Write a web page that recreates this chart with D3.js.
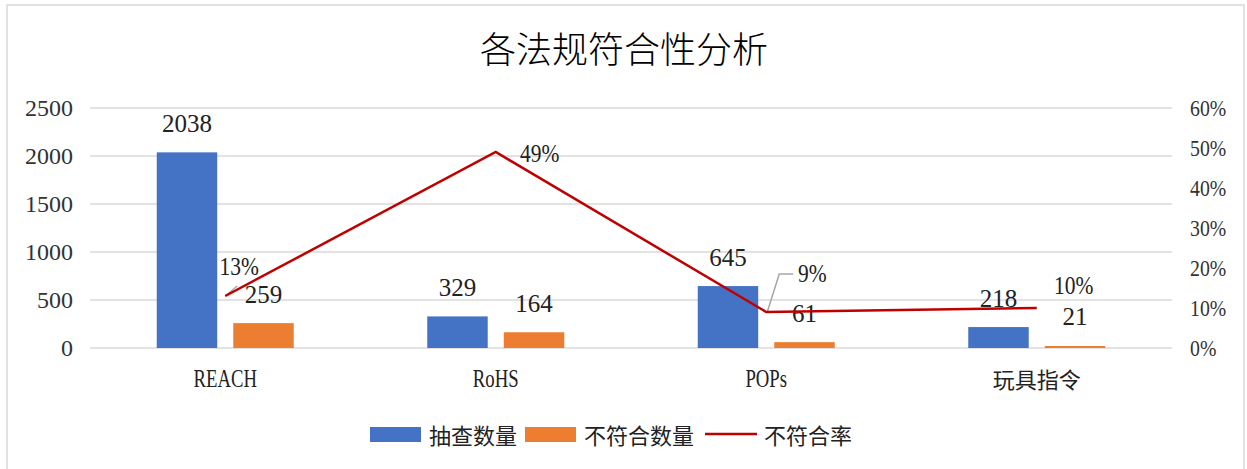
<!DOCTYPE html>
<html>
<head>
<meta charset="utf-8">
<script src="https://cdn.jsdelivr.net/npm/d3@7"></script>
<style>
  body { margin: 0; background: #fff; }
  svg { display: block; }
</style>
</head>
<body>
<svg id="chart" width="1247" height="469"></svg>
<script>
// 数据
const categories = ["REACH", "RoHS", "POPs", "玩具指令"];
const checkCount = [2038, 329, 645, 218];   // 抽查数量
const failCount = [259, 164, 61, 21];       // 不符合数量
const failRate = [0.13, 0.49, 0.09, 0.10];  // 不符合率
const leftTicks = [0, 500, 1000, 1500, 2000, 2500];
const rightTicks = [0, 0.1, 0.2, 0.3, 0.4, 0.5, 0.6];

// 百分比标签相对数据点的偏移（布局用）
const rateLabelOffset = [[14, -30], [44, 1], [46, -39], [37, -23]];

const W = 1247, H = 469;
const margin = { left: 90, right: 75, top: 108, bottom: 121 };
const plotR = W - margin.right, plotB = H - margin.bottom;

const blue = "#4472C4", orange = "#ED7D31", red = "#C00000", grid = "#d9d9d9";
const serif = "'Liberation Serif', 'Times New Roman', serif";
const cjk = "'Noto Sans CJK SC', sans-serif";

const svg = d3.select("#chart");

// 外边框
svg.append("rect")
  .attr("x", 7).attr("y", 5).attr("width", 1237).attr("height", 480)
  .attr("fill", "none").attr("stroke", grid).attr("stroke-width", 1.5);

// 标题
svg.append("text")
  .attr("x", 624).attr("y", 47)
  .attr("text-anchor", "middle").attr("dominant-baseline", "central")
  .style("font-family", cjk).style("font-size", "36px").style("font-weight", 300)
  .attr("fill", "#000")
  .text("各法规符合性分析");

const x = d3.scaleBand().domain(categories).range([margin.left, plotR]);
const yL = d3.scaleLinear().domain([0, 2500]).range([plotB, margin.top]);
const yR = d3.scaleLinear().domain([0, 0.6]).range([plotB, margin.top]);

// 网格线
svg.append("g").selectAll("line").data(leftTicks).join("line")
  .attr("x1", margin.left).attr("x2", plotR)
  .attr("y1", d => yL(d)).attr("y2", d => yL(d))
  .attr("stroke", grid).attr("stroke-width", 1.5);

// 左轴刻度
const axisL = d3.axisLeft(yL).tickValues(leftTicks).tickSize(0).tickPadding(17)
  .tickFormat(d3.format("d"));
const gL = svg.append("g").attr("transform", `translate(${margin.left},0)`).call(axisL);
gL.select(".domain").remove();
gL.selectAll("text").style("font-family", serif).style("font-size", "24px").attr("fill", "#333");

// 右轴刻度
const axisR = d3.axisRight(yR).tickValues(rightTicks).tickSize(0).tickPadding(18)
  .tickFormat(d3.format(".0%"));
const gR = svg.append("g").attr("transform", `translate(${plotR},0)`).call(axisR);
gR.select(".domain").remove();
gR.selectAll("text").style("font-family", serif).style("font-size", "23px").attr("fill", "#333")
  .attr("transform", "scale(0.86,1)")
  .attr("x", 18 / 0.86);

// 分类标签
const isLatin = d => /^[A-Za-z]/.test(d);
svg.append("g").selectAll("text").data(categories).join("text")
  .attr("transform", d => `translate(${x(d) + x.bandwidth() / 2},${plotB + 30}) scale(${isLatin(d) ? 0.72 : 1},1)`)
  .attr("text-anchor", "middle").attr("dominant-baseline", "central")
  .style("font-family", d => isLatin(d) ? serif : cjk)
  .style("font-size", d => isLatin(d) ? "26px" : "22px")
  .attr("fill", "#222")
  .text(d => d);

// 柱子
const sub = d3.scaleBand().domain([0, 1]).paddingInner(0.21);
const series = [checkCount, failCount];
const colors = [blue, orange];
const barG = svg.append("g");
categories.forEach((c, i) => {
  const cx = x(c) + x.bandwidth() / 2;
  sub.range([cx - 68.5, cx + 68.5]);
  series.forEach((s, k) => {
    barG.append("rect")
      .attr("x", sub(k)).attr("width", sub.bandwidth())
      .attr("y", yL(s[i])).attr("height", plotB - yL(s[i]))
      .attr("fill", colors[k]);
    barG.append("text")
      .attr("x", sub(k) + sub.bandwidth() / 2).attr("y", yL(s[i]) - 29)
      .attr("text-anchor", "middle").attr("dominant-baseline", "central")
      .style("font-family", serif).style("font-size", "25px").attr("fill", "#222")
      .text(s[i]);
  });
});

// 折线
const pts = categories.map((c, i) => [x(c) + x.bandwidth() / 2, yR(failRate[i])]);

// 引导线（在折线下方）
const leader = svg.append("g");
leader.append("path")
  .attr("d", `M${pts[0][0]},${pts[0][1]} L${pts[0][0] + 12},${pts[0][1] - 10}`)
  .attr("stroke", "#a6a6a6").attr("stroke-width", 1.5).attr("fill", "none");
leader.append("path")
  .attr("d", `M${pts[2][0] + 1},${pts[2][1]} L${pts[2][0] + 13},${pts[2][1] - 38} L${pts[2][0] + 27},${pts[2][1] - 38}`)
  .attr("stroke", "#a6a6a6").attr("stroke-width", 1.5).attr("fill", "none");

svg.append("path")
  .attr("d", d3.line()(pts))
  .attr("fill", "none").attr("stroke", red).attr("stroke-width", 2.5);

svg.append("g").selectAll("text").data(failRate).join("text")
  .attr("transform", (d, i) => `translate(${pts[i][0] + rateLabelOffset[i][0]},${pts[i][1] + rateLabelOffset[i][1]}) scale(0.86,1)`)
  .attr("text-anchor", "middle").attr("dominant-baseline", "central")
  .style("font-family", serif).style("font-size", "25px").attr("fill", "#222")
  .text(d => d3.format(".0%")(d));

// 图例
const legendItems = [
  { name: "抽查数量", type: "rect", color: blue, x: 370 },
  { name: "不符合数量", type: "rect", color: orange, x: 525 },
  { name: "不符合率", type: "line", color: red, x: 705 }
];
const lg = svg.append("g");
legendItems.forEach(it => {
  if (it.type === "rect") {
    lg.append("rect").attr("x", it.x).attr("y", 427).attr("width", 51).attr("height", 15).attr("fill", it.color);
  } else {
    lg.append("line").attr("x1", it.x).attr("x2", it.x + 52).attr("y1", 434).attr("y2", 434)
      .attr("stroke", it.color).attr("stroke-width", 2.5);
  }
  lg.append("text")
    .attr("x", it.x + 59).attr("y", 434)
    .attr("dominant-baseline", "central")
    .style("font-family", cjk).style("font-size", "22px").attr("fill", "#222")
    .text(it.name);
});
</script>
</body>
</html>
